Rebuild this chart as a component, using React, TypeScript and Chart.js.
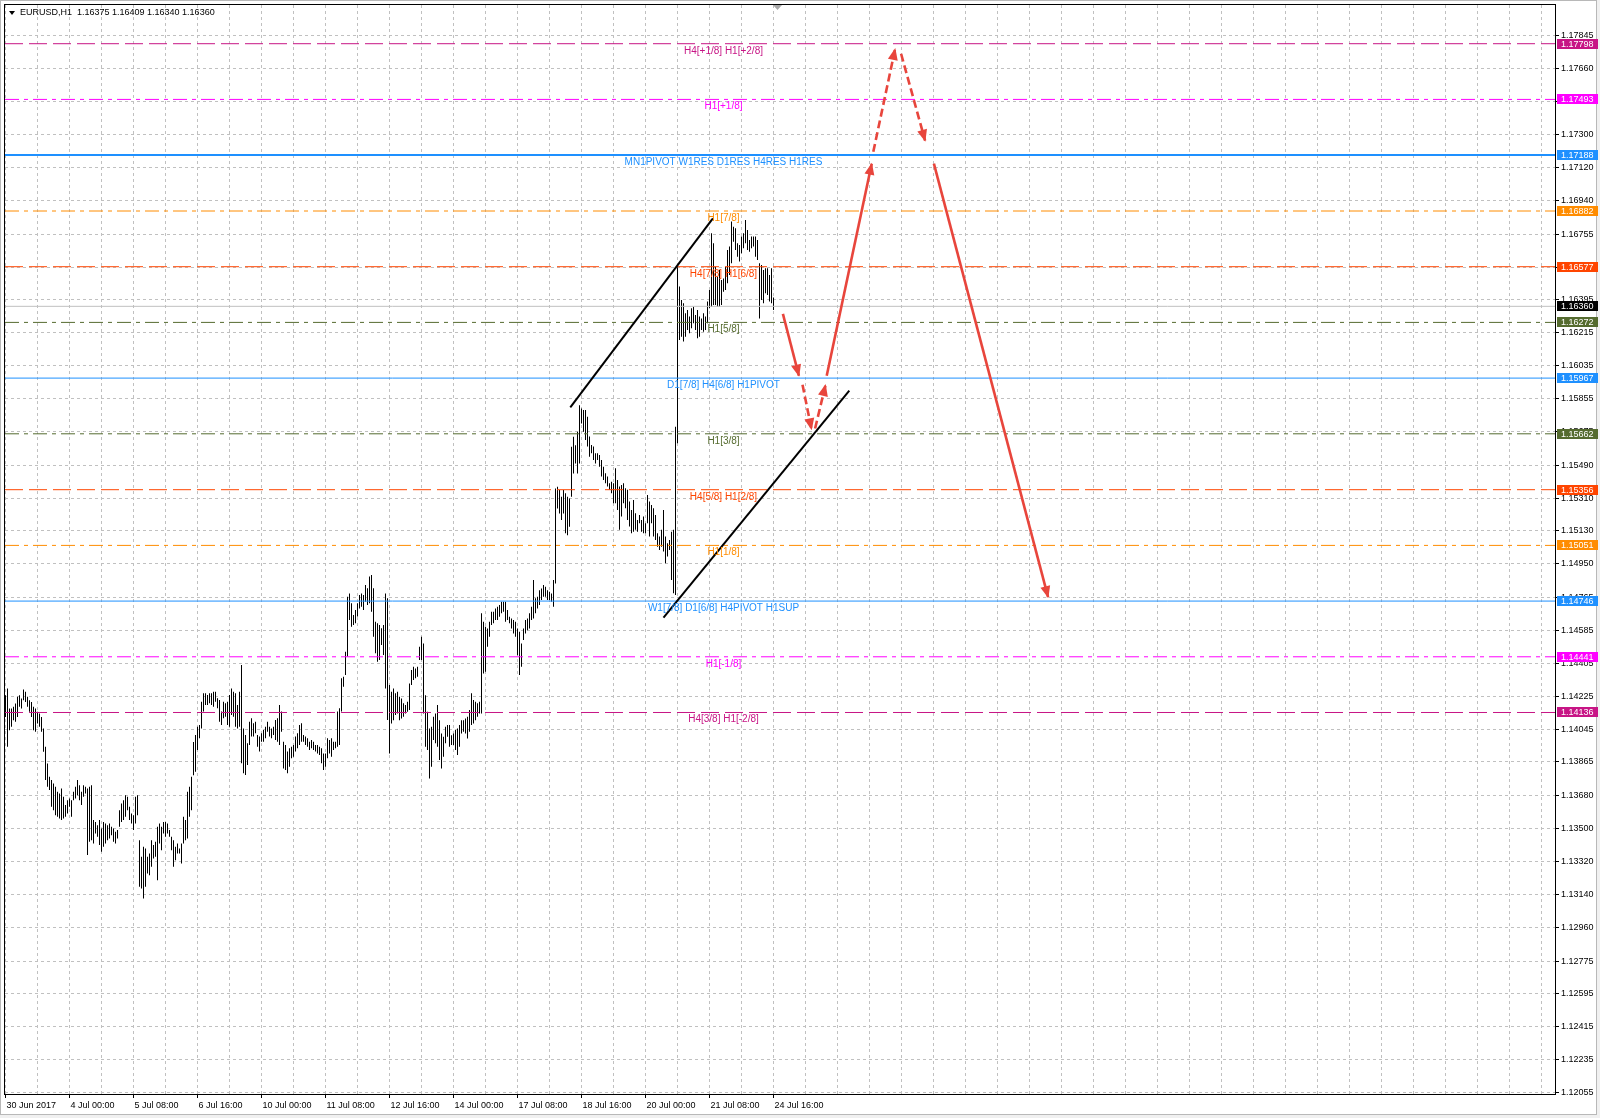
import React, { useEffect, useRef } from 'react';
import { Chart, registerables } from 'chart.js';

Chart.register(...registerables);

const FONT = '"Liberation Sans", Arial, sans-serif';

const SYMBOL = 'EURUSD,H1';
const HEADER_OHLC = [1.16375, 1.16409, 1.16340, 1.16360];

const X_LABELS = ['30 Jun 2017', '4 Jul 00:00', '5 Jul 08:00', '6 Jul 16:00', '10 Jul 00:00', '11 Jul 08:00', '12 Jul 16:00', '14 Jul 00:00', '17 Jul 08:00', '18 Jul 16:00', '20 Jul 00:00', '21 Jul 08:00', '24 Jul 16:00'];
const BARS_PER_LABEL = 32;
const BARS_PER_GRID = 16;
const X_MIN = -0.25;
const X_MAX = 774.75;
const Y_MIN = 1.12047;
const Y_MAX = 1.18010;

const PRICE_TICKS = [1.17845, 1.17660, 1.17480, 1.17300, 1.17120, 1.16940, 1.16755, 1.16575, 1.16395, 1.16215, 1.16035, 1.15855, 1.15675, 1.15490, 1.15310, 1.15130, 1.14950, 1.14765, 1.14585, 1.14405, 1.14225, 1.14045, 1.13865, 1.13680, 1.13500, 1.13320, 1.13140, 1.12960, 1.12775, 1.12595, 1.12415, 1.12235, 1.12055];

const BAR_HIGH = [
  1.14231, 1.14267, 1.14158, 1.14158, 1.14167, 1.14185, 1.14222, 1.14231, 1.14213, 1.14262,
  1.14249, 1.14222, 1.14203, 1.14194, 1.14167, 1.14158, 1.14140, 1.14131, 1.14112, 1.14048,
  1.13948, 1.13857, 1.13784, 1.13766, 1.13747, 1.13729, 1.13702, 1.13693, 1.13720, 1.13674,
  1.13629, 1.13656, 1.13665, 1.13656, 1.13702, 1.13729, 1.13766, 1.13738, 1.13702, 1.13738,
  1.13729, 1.13720, 1.13729, 1.13738, 1.13547, 1.13537, 1.13519, 1.13547, 1.13501, 1.13537,
  1.13528, 1.13519, 1.13528, 1.13510, 1.13501, 1.13483, 1.13492, 1.13601, 1.13638, 1.13656,
  1.13683, 1.13674, 1.13620, 1.13583, 1.13574, 1.13674, 1.13683, 1.13437, 1.13346, 1.13401,
  1.13391, 1.13346, 1.13364, 1.13437, 1.13410, 1.13428, 1.13510, 1.13528, 1.13510, 1.13537,
  1.13537, 1.13528, 1.13492, 1.13455, 1.13437, 1.13401, 1.13419, 1.13391, 1.13419, 1.13565,
  1.13547, 1.13702, 1.13729, 1.13784, 1.13975, 1.14013, 1.14058, 1.14068, 1.14195, 1.14241,
  1.14241, 1.14232, 1.14241, 1.14241, 1.14250, 1.14250, 1.14214, 1.14204, 1.14141, 1.14195,
  1.14186, 1.14195, 1.14232, 1.14268, 1.14250, 1.14241, 1.14177, 1.14250, 1.14396, 1.14049,
  1.14013, 1.13967, 1.14086, 1.14104, 1.14077, 1.14086, 1.14013, 1.14004, 1.14022, 1.14040,
  1.14058, 1.14086, 1.14058, 1.14049, 1.14058, 1.14095, 1.14104, 1.14177, 1.14141, 1.13976,
  1.13958, 1.13922, 1.13940, 1.13949, 1.13958, 1.14004, 1.14022, 1.14068, 1.14077, 1.14013,
  1.14004, 1.13995, 1.13976, 1.13985, 1.13976, 1.13958, 1.13958, 1.13949, 1.13940, 1.13912,
  1.13912, 1.13995, 1.13985, 1.13995, 1.13976, 1.13976, 1.14141, 1.14159, 1.14323, 1.14332,
  1.14469, 1.14770, 1.14788, 1.14734, 1.14670, 1.14697, 1.14734, 1.14779, 1.14788, 1.14779,
  1.14834, 1.14816, 1.14880, 1.14889, 1.14816, 1.14633, 1.14624, 1.14615, 1.14597, 1.14615,
  1.14788, 1.14761, 1.14287, 1.14250, 1.14268, 1.14241, 1.14250, 1.14222, 1.14213, 1.14186,
  1.14177, 1.14195, 1.14295, 1.14368, 1.14387, 1.14377, 1.14387, 1.14496, 1.14551, 1.14514,
  1.14231, 1.14140, 1.14049, 1.14058, 1.14113, 1.14131, 1.14177, 1.14094, 1.14021, 1.14003,
  1.14058, 1.14067, 1.14067, 1.14012, 1.14021, 1.14040, 1.14049, 1.14067, 1.14094, 1.14094,
  1.14103, 1.14113, 1.14149, 1.14241, 1.14204, 1.14195, 1.14186, 1.14195, 1.14679, 1.14633,
  1.14606, 1.14596, 1.14633, 1.14688, 1.14688, 1.14706, 1.14715, 1.14724, 1.14742, 1.14742,
  1.14742, 1.14697, 1.14660, 1.14651, 1.14642, 1.14633, 1.14596, 1.14578, 1.14514, 1.14596,
  1.14642, 1.14651, 1.14679, 1.14715, 1.14861, 1.14761, 1.14770, 1.14806, 1.14815, 1.14834,
  1.14825, 1.14806, 1.14797, 1.14788, 1.14861, 1.15363, 1.15372, 1.15354, 1.15317, 1.15354,
  1.15336, 1.15317, 1.15308, 1.15591, 1.15646, 1.15600, 1.15673, 1.15819, 1.15801, 1.15792,
  1.15792, 1.15756, 1.15647, 1.15601, 1.15592, 1.15555, 1.15555, 1.15546, 1.15519, 1.15482,
  1.15446, 1.15428, 1.15391, 1.15400, 1.15391, 1.15473, 1.15409, 1.15373, 1.15382, 1.15391,
  1.15364, 1.15355, 1.15291, 1.15245, 1.15300, 1.15227, 1.15190, 1.15218, 1.15190, 1.15209,
  1.15172, 1.15327, 1.15291, 1.15272, 1.15254, 1.15218, 1.15117, 1.15099, 1.15136, 1.15245,
  1.15099, 1.15063, 1.15081, 1.15126, 1.15136, 1.15701, 1.16574, 1.16468, 1.16395, 1.16377,
  1.16322, 1.16340, 1.16304, 1.16349, 1.16358, 1.16313, 1.16340, 1.16304, 1.16294, 1.16322,
  1.16304, 1.16386, 1.16450, 1.16760, 1.16705, 1.16577, 1.16522, 1.16559, 1.16504, 1.16513,
  1.16577, 1.16668, 1.16687, 1.16824, 1.16796, 1.16787, 1.16705, 1.16696, 1.16742, 1.16760,
  1.16833, 1.16778, 1.16723, 1.16742, 1.16742, 1.16742, 1.16723, 1.16596, 1.16586, 1.16559,
  1.16568, 1.16568, 1.16532, 1.16568, 1.16409,
];

const BAR_LOW = [
  1.14112, 1.13948, 1.14039, 1.14058, 1.14094, 1.14085, 1.14112, 1.14167, 1.14158, 1.14203,
  1.14194, 1.14167, 1.14140, 1.14112, 1.14039, 1.14030, 1.14076, 1.14058, 1.14030, 1.13921,
  1.13766, 1.13729, 1.13711, 1.13620, 1.13601, 1.13574, 1.13565, 1.13556, 1.13547, 1.13556,
  1.13565, 1.13583, 1.13620, 1.13565, 1.13656, 1.13665, 1.13683, 1.13656, 1.13629, 1.13674,
  1.13693, 1.13355, 1.13428, 1.13437, 1.13419, 1.13474, 1.13455, 1.13410, 1.13373, 1.13401,
  1.13419, 1.13437, 1.13446, 1.13464, 1.13428, 1.13419, 1.13446, 1.13510, 1.13537, 1.13547,
  1.13565, 1.13601, 1.13547, 1.13528, 1.13492, 1.13528, 1.13574, 1.13182, 1.13172, 1.13118,
  1.13182, 1.13254, 1.13245, 1.13291, 1.13337, 1.13346, 1.13218, 1.13419, 1.13382, 1.13474,
  1.13455, 1.13474, 1.13455, 1.13382, 1.13291, 1.13327, 1.13364, 1.13364, 1.13309, 1.13419,
  1.13437, 1.13446, 1.13565, 1.13601, 1.13793, 1.13812, 1.13931, 1.13995, 1.14049, 1.14141,
  1.14177, 1.14177, 1.14186, 1.14177, 1.14168, 1.14195, 1.14159, 1.14086, 1.14068, 1.14104,
  1.14113, 1.14068, 1.14058, 1.14122, 1.14113, 1.14058, 1.14049, 1.14058, 1.13858, 1.13803,
  1.13794, 1.13849, 1.13958, 1.14004, 1.14004, 1.14022, 1.13949, 1.13922, 1.13976, 1.13976,
  1.13995, 1.14031, 1.14004, 1.13995, 1.14013, 1.13985, 1.13976, 1.13958, 1.14031, 1.13830,
  1.13821, 1.13803, 1.13839, 1.13885, 1.13894, 1.13922, 1.13940, 1.13958, 1.13976, 1.13976,
  1.13958, 1.13949, 1.13931, 1.13940, 1.13931, 1.13922, 1.13912, 1.13903, 1.13858, 1.13821,
  1.13839, 1.13885, 1.13912, 1.13894, 1.13931, 1.13940, 1.13949, 1.13958, 1.14141, 1.14277,
  1.14341, 1.14442, 1.14642, 1.14606, 1.14615, 1.14624, 1.14661, 1.14706, 1.14715, 1.14697,
  1.14743, 1.14724, 1.14734, 1.14688, 1.14551, 1.14460, 1.14414, 1.14423, 1.14506, 1.14451,
  1.14268, 1.14095, 1.13912, 1.14076, 1.14094, 1.14122, 1.14131, 1.14094, 1.14103, 1.14113,
  1.14131, 1.14140, 1.14149, 1.14286, 1.14314, 1.14323, 1.14332, 1.14423, 1.14423, 1.14131,
  1.13949, 1.13930, 1.13775, 1.13839, 1.13985, 1.13967, 1.13949, 1.13876, 1.13830, 1.13894,
  1.13967, 1.14003, 1.13949, 1.13958, 1.13958, 1.13930, 1.13903, 1.13949, 1.14021, 1.14031,
  1.14021, 1.13994, 1.14031, 1.14067, 1.14076, 1.14094, 1.14113, 1.14131, 1.14131, 1.14350,
  1.14359, 1.14496, 1.14551, 1.14615, 1.14624, 1.14642, 1.14642, 1.14660, 1.14679, 1.14688,
  1.14633, 1.14642, 1.14624, 1.14596, 1.14569, 1.14551, 1.14450, 1.14341, 1.14387, 1.14533,
  1.14569, 1.14587, 1.14596, 1.14642, 1.14651, 1.14679, 1.14706, 1.14724, 1.14752, 1.14770,
  1.14770, 1.14752, 1.14752, 1.14742, 1.14715, 1.14843, 1.15253, 1.15226, 1.15190, 1.15226,
  1.15117, 1.15107, 1.15153, 1.15317, 1.15445, 1.15500, 1.15445, 1.15500, 1.15719, 1.15673,
  1.15628, 1.15592, 1.15537, 1.15555, 1.15519, 1.15500, 1.15519, 1.15482, 1.15428, 1.15409,
  1.15391, 1.15373, 1.15355, 1.15336, 1.15282, 1.15282, 1.15245, 1.15136, 1.15209, 1.15282,
  1.15254, 1.15190, 1.15154, 1.15117, 1.15126, 1.15136, 1.15126, 1.15172, 1.15126, 1.15117,
  1.15117, 1.15172, 1.15099, 1.15172, 1.15099, 1.15081, 1.15044, 1.15026, 1.15044, 1.15017,
  1.14953, 1.14990, 1.15026, 1.14862, 1.14789, 1.14780, 1.15610, 1.16176, 1.16194, 1.16167,
  1.16194, 1.16231, 1.16212, 1.16240, 1.16267, 1.16231, 1.16185, 1.16194, 1.16231, 1.16221,
  1.16231, 1.16267, 1.16349, 1.16358, 1.16367, 1.16367, 1.16358, 1.16358, 1.16367, 1.16440,
  1.16450, 1.16486, 1.16532, 1.16596, 1.16714, 1.16668, 1.16632, 1.16605, 1.16650, 1.16678,
  1.16705, 1.16668, 1.16659, 1.16678, 1.16687, 1.16632, 1.16614, 1.16294, 1.16395, 1.16377,
  1.16431, 1.16422, 1.16386, 1.16377, 1.16340,
];

const LEVEL_PRICES = [1.17798, 1.17493, 1.17188, 1.16882, 1.16577, 1.16272, 1.15967, 1.15662, 1.15356, 1.15051, 1.14746, 1.14441, 1.14136];
const LEVEL_LABELS = ['H4[+1/8] H1[+2/8]', 'H1[+1/8]', 'MN1PIVOT W1RES D1RES H4RES H1RES', 'H1[7/8]', 'H4[7/8] H1[6/8]', 'H1[5/8]', 'D1[7/8] H4[6/8] H1PIVOT', 'H1[3/8]', 'H4[5/8] H1[2/8]', 'H1[1/8]', 'W1[7/8] D1[6/8] H4PIVOT H1SUP', 'H1[-1/8]', 'H4[3/8] H1[-2/8]'];
const LEVEL_COLORS = ['#C71585', '#FF00FF', '#1E90FF', '#FF8C00', '#FF4500', '#556B2F', '#1E90FF', '#556B2F', '#FF4500', '#FF8C00', '#1E90FF', '#FF00FF', '#C71585'];
const LEVEL_STYLES = ['dash', 'dashdot', 'solid', 'dashdot', 'dash', 'dashdot', 'solid', 'dashdot', 'dash', 'dashdot', 'solid', 'dashdot', 'dash'];
const LEVEL_WIDTHS = [1, 1, 2, 1, 1, 1, 1, 1, 1, 1, 1, 1, 1];
const LABEL_BAR = 359;

const CURRENT_PRICE = 1.16360;

const TREND_FROM_BAR = [282.4, 329.0];
const TREND_FROM_PRICE = [1.15807, 1.14655];
const TREND_TO_BAR = [353.7, 421.9];
const TREND_TO_PRICE = [1.16842, 1.15899];

const ARROW_FROM_BAR = [388.7, 398.5, 404.8, 410.6, 433.9, 447.8, 464.2];
const ARROW_FROM_PRICE = [1.16319, 1.15931, 1.15691, 1.15980, 1.17206, 1.17743, 1.17141];
const ARROW_TO_BAR = [396.7, 403.0, 410.0, 433.1, 444.8, 459.8, 521.3];
const ARROW_TO_PRICE = [1.15980, 1.15687, 1.15929, 1.17141, 1.17769, 1.17267, 1.14768];
const ARROW_DASHED = [false, true, true, false, true, true, false];

const ARROW_COLOR = '#E8453C';
const DASHES: Record<string, number[]> = { dash: [18, 6], dashdot: [14, 5, 4, 5], solid: [] };

const mt4Plugin = {
  id: 'mt4decor',
  beforeDraw(chart: any) {
    const c = chart.ctx;
    c.save();
    c.fillStyle = '#F0F0F0';
    c.fillRect(0, 0, chart.width, chart.height);
    c.fillStyle = '#FFFFFF';
    c.fillRect(0, 0, 1597, 1115);
    c.strokeStyle = '#B8B8B8';
    c.lineWidth = 1;
    c.strokeRect(0.5, 0.5, 1596, 1114);
    c.restore();
  },
  afterDatasetsDraw(chart: any) {
    const c = chart.ctx;
    const xs = chart.scales.x;
    const ys = chart.scales.y;
    const a = chart.chartArea;
    c.save();
    c.beginPath();
    c.rect(a.left, a.top, a.right - a.left, a.bottom - a.top);
    c.clip();
    // arrow heads
    ARROW_TO_BAR.forEach((tb, k) => {
      const x0 = xs.getPixelForValue(ARROW_FROM_BAR[k]);
      const y0 = ys.getPixelForValue(ARROW_FROM_PRICE[k]);
      const x1 = xs.getPixelForValue(tb);
      const y1 = ys.getPixelForValue(ARROW_TO_PRICE[k]);
      const len = Math.hypot(x1 - x0, y1 - y0) || 1;
      const ux = (x1 - x0) / len;
      const uy = (y1 - y0) / len;
      const L = 11;
      const W = 5;
      c.beginPath();
      c.moveTo(x1 + ux, y1 + uy);
      c.lineTo(x1 - L * ux - W * uy, y1 - L * uy + W * ux);
      c.lineTo(x1 - L * ux + W * uy, y1 - L * uy - W * ux);
      c.closePath();
      c.fillStyle = ARROW_COLOR;
      c.fill();
    });
    // level labels
    c.font = '10px ' + FONT;
    c.textAlign = 'center';
    c.textBaseline = 'middle';
    const lx = xs.getPixelForValue(LABEL_BAR);
    LEVEL_PRICES.forEach((p, k) => {
      c.fillStyle = LEVEL_COLORS[k];
      c.fillText(LEVEL_LABELS[k], lx, Math.round(ys.getPixelForValue(p)) + 7.5);
    });
    c.restore();
  },
  afterDraw(chart: any) {
    const c = chart.ctx;
    const ys = chart.scales.y;
    const a = chart.chartArea;
    c.save();
    // plot frame
    c.strokeStyle = '#000';
    c.lineWidth = 1;
    c.strokeRect(a.left - 0.5, a.top - 0.5, a.right - a.left + 1, a.bottom - a.top + 1);
    // price tags on the axis
    c.font = '9px ' + FONT;
    c.textAlign = 'left';
    c.textBaseline = 'middle';
    const tags = LEVEL_PRICES.map((p, k) => ({ p, color: LEVEL_COLORS[k] }));
    tags.push({ p: CURRENT_PRICE, color: '#000000' });
    tags.forEach(({ p, color }) => {
      const yc = Math.round(ys.getPixelForValue(p));
      c.fillStyle = color;
      c.fillRect(a.right + 2, yc - 5, 41, 10);
      c.fillStyle = '#FFFFFF';
      c.fillText(p.toFixed(5), a.right + 6, yc + 0.5);
    });
    // header
    c.fillStyle = '#000';
    c.beginPath();
    c.moveTo(9, 11);
    c.lineTo(15, 11);
    c.lineTo(12, 15);
    c.closePath();
    c.fill();
    c.font = '9px ' + FONT;
    c.textAlign = 'left';
    c.textBaseline = 'middle';
    c.fillText(SYMBOL + '  ' + HEADER_OHLC.map((v) => v.toFixed(5)).join(' '), 20, 13);
    // chart shift marker
    c.fillStyle = '#A8A8A8';
    c.beginPath();
    c.moveTo(773, 5);
    c.lineTo(782, 5);
    c.lineTo(777.5, 10);
    c.closePath();
    c.fill();
    c.restore();
  },
};

export default function App() {
  const ref = useRef<HTMLCanvasElement | null>(null);

  useEffect(() => {
    const canvas = ref.current;
    if (!canvas) return;

    const barData = BAR_HIGH.map((h, i) => ({ x: i, y: [BAR_LOW[i], h] }));
    const gridBars: number[] = [];
    for (let v = 0; v <= X_MAX; v += BARS_PER_GRID) gridBars.push(v);
    const lastLabelBar = (X_LABELS.length - 1) * BARS_PER_LABEL;

    const levelSets = LEVEL_PRICES.map((p, k) => ({
      type: 'line',
      data: [{ x: X_MIN, y: p }, { x: X_MAX, y: p }],
      borderColor: LEVEL_COLORS[k],
      borderWidth: LEVEL_WIDTHS[k],
      borderDash: DASHES[LEVEL_STYLES[k]],
      pointRadius: 0,
      fill: false,
      order: 5,
    }));

    const trendSets = TREND_FROM_BAR.map((fb, k) => ({
      type: 'line',
      data: [{ x: fb, y: TREND_FROM_PRICE[k] }, { x: TREND_TO_BAR[k], y: TREND_TO_PRICE[k] }],
      borderColor: '#000000',
      borderWidth: 2,
      pointRadius: 0,
      fill: false,
      order: 2,
    }));

    const arrowSets = ARROW_FROM_BAR.map((fb, k) => ({
      type: 'line',
      data: [{ x: fb, y: ARROW_FROM_PRICE[k] }, { x: ARROW_TO_BAR[k], y: ARROW_TO_PRICE[k] }],
      borderColor: ARROW_COLOR,
      borderWidth: 2.6,
      borderDash: ARROW_DASHED[k] ? [8, 4] : [],
      pointRadius: 0,
      fill: false,
      order: 1,
    }));

    const chart = new Chart(canvas, {
      type: 'bar',
      data: {
        datasets: [
          {
            type: 'bar',
            data: barData,
            backgroundColor: '#000000',
            borderWidth: 0,
            barThickness: 1,
            inflateAmount: 0,
            grouped: false,
            order: 10,
          } as any,
          {
            type: 'line',
            data: [{ x: X_MIN, y: CURRENT_PRICE }, { x: X_MAX, y: CURRENT_PRICE }],
            borderColor: '#C0C0C0',
            borderWidth: 1,
            pointRadius: 0,
            fill: false,
            order: 6,
          } as any,
          ...(levelSets as any[]),
          ...(trendSets as any[]),
          ...(arrowSets as any[]),
        ],
      },
      options: {
        animation: false,
        responsive: false,
        devicePixelRatio: 1,
        events: [],
        layout: { padding: { left: 5, top: 5, right: 0, bottom: 0 } },
        plugins: { legend: { display: false }, tooltip: { enabled: false } },
        scales: {
          x: {
            type: 'linear',
            min: X_MIN,
            max: X_MAX,
            offset: false,
            afterBuildTicks: (s: any) => {
              s.ticks = gridBars.map((v) => ({ value: v }));
            },
            afterFit: (s: any) => {
              s.height = 24;
              s.paddingLeft = 0;
              s.paddingRight = 0;
            },
            ticks: {
              autoSkip: false,
              maxRotation: 0,
              minRotation: 0,
              align: 'start',
              padding: 2,
              labelOffset: 1,
              color: '#000000',
              font: { family: FONT, size: 9 },
              callback: (v: any) => (Number(v) % BARS_PER_LABEL === 0 ? X_LABELS[Number(v) / BARS_PER_LABEL] ?? '' : ''),
            },
            grid: {
              color: '#C0C0C0',
              offset: false,
              tickLength: 4,
              tickBorderDash: [],
              tickColor: (ctx: any) =>
                ctx.tick && ctx.tick.value % BARS_PER_LABEL === 0 && ctx.tick.value <= lastLabelBar ? '#000000' : 'rgba(0,0,0,0)',
            },
            border: { display: true, color: '#000000', width: 1, dash: [3, 3] },
          } as any,
          y: {
            type: 'linear',
            position: 'right',
            min: Y_MIN,
            max: Y_MAX,
            afterBuildTicks: (s: any) => {
              s.ticks = PRICE_TICKS.map((v) => ({ value: v }));
            },
            afterFit: (s: any) => {
              s.width = 45;
              s.paddingTop = 0;
              s.paddingBottom = 0;
            },
            ticks: {
              autoSkip: false,
              padding: 2,
              crossAlign: 'near',
              color: '#000000',
              font: { family: FONT, size: 9 },
              callback: (v: any) => Number(v).toFixed(5),
            },
            grid: {
              color: '#C0C0C0',
              tickLength: 4,
              tickBorderDash: [],
              tickColor: '#000000',
            },
            border: { display: true, color: '#000000', width: 1, dash: [3, 3] },
          } as any,
        },
      } as any,
      plugins: [mt4Plugin],
    });

    return () => chart.destroy();
  }, []);

  return (
    <div style={{ position: 'fixed', left: 0, top: 0, width: 1600, height: 1118, background: '#FFFFFF' }}>
      <canvas ref={ref} width={1600} height={1118} style={{ width: 1600, height: 1118, display: 'block' }} />
    </div>
  );
}
